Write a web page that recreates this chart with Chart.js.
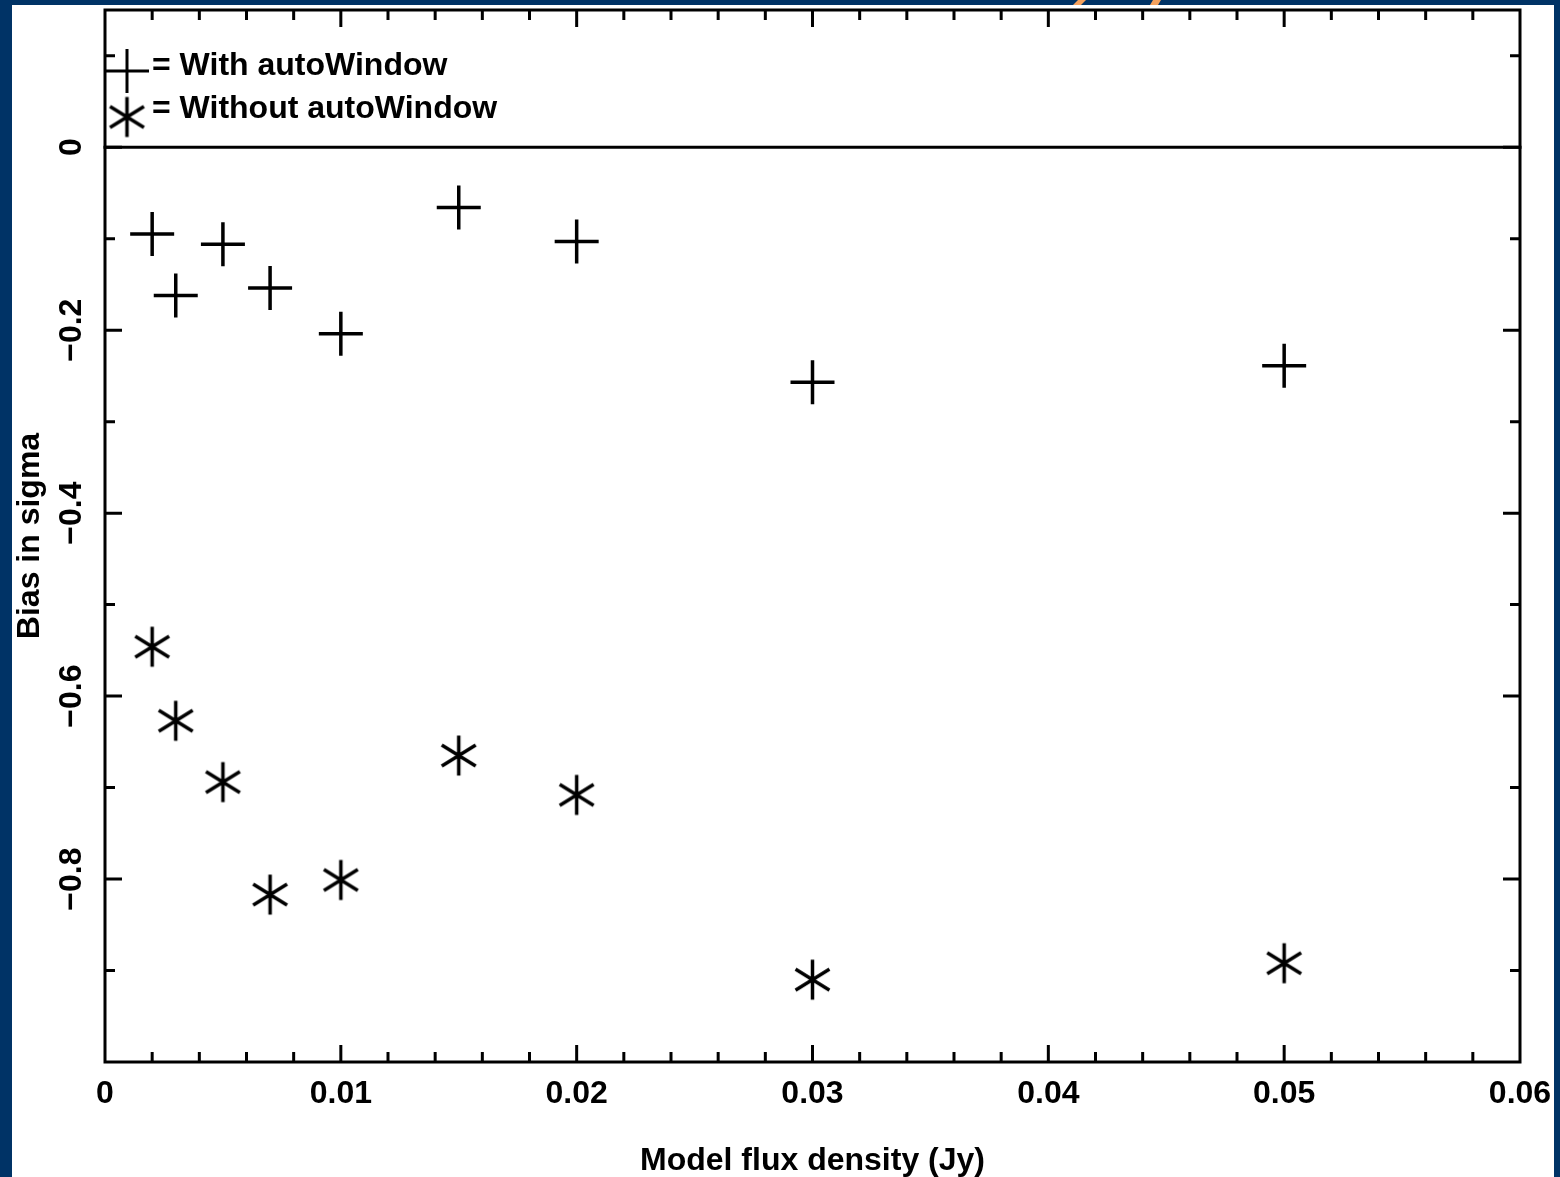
<!DOCTYPE html>
<html>
<head>
<meta charset="utf-8">
<title>Bias in sigma vs model flux density</title>
<script src="https://cdn.jsdelivr.net/npm/chart.js@4/dist/chart.umd.min.js"></script>
<style>
  html, body { margin: 0; padding: 0; background: #003366; }
  canvas { display: block; }
</style>
</head>
<body>
<canvas id="chart" width="1560" height="1177"></canvas>
<script>
// Model flux densities (Jy) of the simulated sources
const fluxJy = [0.002, 0.003, 0.005, 0.007, 0.010, 0.015, 0.020, 0.030, 0.050];

// Measured bias, in units of sigma
const biasWithAutoWindow    = [-0.095, -0.162, -0.106, -0.154, -0.204, -0.066, -0.103, -0.257, -0.239];
const biasWithoutAutoWindow = [-0.546, -0.627, -0.694, -0.817, -0.801, -0.665, -0.708, -0.910, -0.892];

// Axis ticks
const xTickValues = [0, 0.01, 0.02, 0.03, 0.04, 0.05, 0.06];
const xTickLabels = ['0', '0.01', '0.02', '0.03', '0.04', '0.05', '0.06'];
const yTickValues = [0, -0.2, -0.4, -0.6, -0.8];
const yTickLabels = ['0', '\u22120.2', '\u22120.4', '\u22120.6', '\u22120.8'];

const seriesLabels = ['With autoWindow', 'Without autoWindow'];

const FONT = { family: '"Liberation Sans", Arial, sans-serif', size: 32, weight: 'bold' };
const INK = '#000000';

// Six-armed asterisk marker, drawn once onto a small canvas
function makeAsterisk(r, lw) {
  const size = Math.ceil(2 * r + lw * 2);
  const c = document.createElement('canvas');
  c.width = size; c.height = size;
  const g = c.getContext('2d');
  const cx = size / 2, cy = size / 2;
  g.strokeStyle = INK;
  g.lineWidth = lw;
  g.beginPath();
  [90, 32, -32].forEach(deg => {
    const a = deg * Math.PI / 180;
    const dx = Math.cos(a) * r, dy = Math.sin(a) * r;
    g.moveTo(cx - dx, cy - dy);
    g.lineTo(cx + dx, cy + dy);
  });
  g.stroke();
  return c;
}
const asterisk = makeAsterisk(20, 3.5);

// Page background, white panel and the slide's accent strokes
const backdrop = {
  id: 'backdrop',
  beforeDraw(chart) {
    const ctx = chart.ctx;
    ctx.save();
    ctx.fillStyle = '#003366';
    ctx.fillRect(0, 0, chart.width, chart.height);
    ctx.fillStyle = '#ffffff';
    ctx.fillRect(12, 5, 1542, chart.height - 5);
    ctx.fillStyle = '#f5a25e';
    ctx.beginPath();
    ctx.moveTo(1073, 5); ctx.lineTo(1078, 0); ctx.lineTo(1086, 0); ctx.lineTo(1081, 5);
    ctx.closePath(); ctx.fill();
    ctx.beginPath();
    ctx.moveTo(1150, 5); ctx.lineTo(1153, 0); ctx.lineTo(1161, 0); ctx.lineTo(1158, 5);
    ctx.closePath(); ctx.fill();
    ctx.restore();
  }
};

// Box frame, zero line and inward tick marks on all four sides
const frame = {
  id: 'frame',
  beforeDatasetsDraw(chart) {
    const { ctx, chartArea: a, scales: { x, y } } = chart;
    ctx.save();
    ctx.strokeStyle = INK;
    ctx.lineWidth = 3;
    ctx.lineCap = 'square';
    ctx.strokeRect(a.left, a.top, a.right - a.left, a.bottom - a.top);

    const y0 = y.getPixelForValue(0);
    ctx.beginPath();
    ctx.moveTo(a.left, y0); ctx.lineTo(a.right, y0);
    ctx.stroke();

    ctx.lineCap = 'butt';
    ctx.beginPath();
    const MAJOR = 17, MINOR = 10;
    for (let i = 1; i < 30; i++) {
      const px = x.getPixelForValue(i * 0.002);
      const len = (i % 5 === 0) ? MAJOR : MINOR;
      ctx.moveTo(px, a.bottom); ctx.lineTo(px, a.bottom - len);
      ctx.moveTo(px, a.top); ctx.lineTo(px, a.top + len);
    }
    for (let i = -9; i <= 1; i++) {
      const py = y.getPixelForValue(i * 0.1);
      const len = (i % 2 === 0) ? MAJOR : MINOR;
      ctx.moveTo(a.left, py); ctx.lineTo(a.left + len, py);
      ctx.moveTo(a.right, py); ctx.lineTo(a.right - len, py);
    }
    ctx.stroke();
    ctx.restore();
  }
};

// Key in the upper-left corner of the plot
const key = {
  id: 'key',
  afterDraw(chart) {
    const { ctx, chartArea: a } = chart;
    ctx.save();
    ctx.fillStyle = INK;
    ctx.strokeStyle = INK;
    ctx.lineWidth = 3;
    ctx.font = `${FONT.weight} ${FONT.size}px ${FONT.family}`;
    ctx.textBaseline = 'middle';
    ctx.textAlign = 'left';

    const mx = a.left + 22;
    const r1 = a.top + 61;
    ctx.beginPath();
    ctx.moveTo(mx - 22, r1); ctx.lineTo(mx + 22, r1);
    ctx.moveTo(mx, r1 - 22); ctx.lineTo(mx, r1 + 22);
    ctx.stroke();
    ctx.fillText('= ' + seriesLabels[0], a.left + 47, a.top + 56);

    const r2 = a.top + 107;
    ctx.drawImage(asterisk, mx - asterisk.width / 2, r2 - asterisk.height / 2);
    ctx.fillText('= ' + seriesLabels[1], a.left + 47, a.top + 99);
    ctx.restore();
  }
};

new Chart(document.getElementById('chart'), {
  type: 'scatter',
  data: {
    datasets: [
      {
        label: seriesLabels[0],
        data: fluxJy.map((f, i) => ({ x: f, y: biasWithAutoWindow[i] })),
        pointStyle: 'cross',
        pointRadius: 22,
        pointHoverRadius: 22,
        borderColor: INK,
        backgroundColor: INK,
        pointBorderWidth: 3.5
      },
      {
        label: seriesLabels[1],
        data: fluxJy.map((f, i) => ({ x: f, y: biasWithoutAutoWindow[i] })),
        pointStyle: asterisk,
        pointRadius: 20,
        pointHoverRadius: 20,
        borderColor: INK,
        backgroundColor: INK
      }
    ]
  },
  options: {
    responsive: false,
    animation: false,
    devicePixelRatio: 1,
    layout: { autoPadding: false, padding: { left: 0, top: 10, right: 40, bottom: 0 } },
    plugins: {
      legend: { display: false },
      tooltip: { enabled: false }
    },
    scales: {
      x: {
        type: 'linear',
        position: 'bottom',
        min: 0,
        max: 0.06,
        afterBuildTicks(scale) { scale.ticks = xTickValues.map(v => ({ value: v })); },
        afterFit(scale) {
          scale.height = 115;
          scale.paddingLeft = 0;
          scale.paddingRight = 0;
        },
        grid: { display: false, drawTicks: false },
        border: { display: false },
        ticks: {
          color: INK,
          font: FONT,
          padding: 13,
          maxRotation: 0,
          autoSkip: false,
          callback: (value, index) => xTickLabels[index]
        },
        title: {
          display: true,
          text: 'Model flux density (Jy)',
          color: INK,
          font: FONT,
          padding: { top: 0, bottom: -3 }
        }
      },
      y: {
        type: 'linear',
        position: 'left',
        min: -1.0,
        max: 0.15,
        afterBuildTicks(scale) { scale.ticks = yTickValues.map(v => ({ value: v })); },
        afterFit(scale) {
          scale.width = 105;
          scale.paddingTop = 0;
          scale.paddingBottom = 0;
        },
        grid: { display: false, drawTicks: false },
        border: { display: false },
        ticks: {
          color: INK,
          font: FONT,
          padding: 1,
          minRotation: 90,
          maxRotation: 90,
          crossAlign: 'center',
          autoSkip: false,
          callback: (value, index) => yTickLabels[index]
        },
        title: {
          display: true,
          text: 'Bias in sigma',
          color: INK,
          font: FONT,
          padding: { top: 11, bottom: 0 }
        }
      }
    }
  },
  plugins: [backdrop, frame, key]
});
</script>
</body>
</html>
